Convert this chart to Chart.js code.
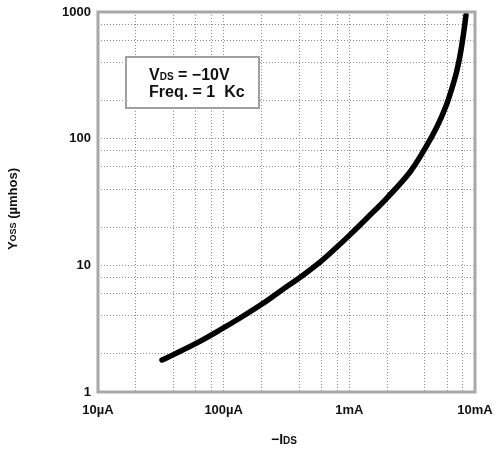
<!DOCTYPE html>
<html>
<head>
<meta charset="utf-8">
<script src="https://cdn.jsdelivr.net/npm/chart.js@4"></script>
<style>
  html, body { margin: 0; padding: 0; background: #fff; }
  #wrap { width: 498px; height: 453px; }
</style>
</head>
<body>
<div id="wrap"><canvas id="yossChart" width="498" height="453"></canvas></div>
<script>
"use strict";

// drain current (mA) and output admittance (umhos)
var drainCurrentMA = [0.0323, 0.041, 0.0613, 0.0935, 0.135, 0.202, 0.291, 0.42, 0.584, 0.769, 1.01, 1.41, 1.99, 3.04, 4.07, 4.98, 5.88, 6.56, 7.19, 7.74, 8.18, 8.48];
var yossUmhos = [1.79, 2.0, 2.44, 3.09, 3.84, 4.95, 6.39, 8.24, 10.6, 13.5, 17.4, 24.1, 34.0, 54.6, 86, 124, 181, 251, 348, 501, 721, 947];

// graph paper rulings: 1, 2, 4, 6, 8 in every decade
var xGridValues = [0.01, 0.02, 0.04, 0.06, 0.08, 0.1, 0.2, 0.4, 0.6, 0.8, 1, 2, 4, 6, 8, 10];
var yGridValues = [1, 2, 4, 6, 8, 10, 20, 40, 60, 80, 100, 200, 400, 600, 800, 1000];
var xDecadeLabels = { 0.01: '10\u00b5A', 0.1: '100\u00b5A', 1: '1mA', 10: '10mA' };
var yDecadeLabels = { 1: '1', 10: '10', 100: '100', 1000: '1000' };

var FONT = "'Liberation Sans', Arial, sans-serif";
var GRID = '#8c8c8c';

// draw a run of [text, size, dy] pieces starting at x, baseline middle
function drawPieces(ctx, pieces, x, y) {
  pieces.forEach(function (p) {
    ctx.font = 'bold ' + p[1] + 'px ' + FONT;
    ctx.fillText(p[0], x, y + (p[2] || 0));
    x += ctx.measureText(p[0]).width;
  });
}
function piecesWidth(ctx, pieces) {
  var w = 0;
  pieces.forEach(function (p) {
    ctx.font = 'bold ' + p[1] + 'px ' + FONT;
    w += ctx.measureText(p[0]).width;
  });
  return w;
}

var plotDecor = {
  id: 'plotDecor',
  afterDatasetsDraw: function (chart) {
    var ctx = chart.ctx, a = chart.chartArea;
    ctx.save();
    // frame
    ctx.strokeStyle = '#a8a8a8';
    ctx.lineWidth = 3;
    ctx.strokeRect(a.left, a.top, a.right - a.left, a.bottom - a.top);

    // condition box
    ctx.fillStyle = '#fff';
    ctx.fillRect(126, 57, 133, 51);
    ctx.strokeStyle = '#a0a0a0';
    ctx.lineWidth = 2;
    ctx.strokeRect(126, 57, 133, 51);
    ctx.fillStyle = '#111';
    ctx.textBaseline = 'middle';
    ctx.textAlign = 'left';
    drawPieces(ctx, [['V', 16], ['DS', 10, 1], [' = \u221210V', 16]], 149, 76);
    drawPieces(ctx, [['Freq. = 1  Kc', 16]], 149, 93);

    // axis titles
    drawPieces(ctx, [['\u2212I', 14], ['DS', 10, 1]], 271, 440);
    var yt = [['Y', 13], ['OSS', 9, 1], [' (\u00b5mhos)', 13]];
    ctx.translate(13, 209);
    ctx.rotate(-Math.PI / 2);
    drawPieces(ctx, yt, -piecesWidth(ctx, yt) / 2, 0);
    ctx.restore();
  }
};

var load_yoss_chart = function () {
  var el = document.getElementById('yossChart').getContext('2d');
  var points = drainCurrentMA.map(function (x, i) { return { x: x, y: yossUmhos[i] }; });

  return new Chart(el, {
    type: 'line',
    data: {
      datasets: [{
        data: points,
        borderColor: '#000',
        borderWidth: 5.5,
        borderCapStyle: 'round',
        borderJoinStyle: 'round',
        pointRadius: 0,
        tension: 0.35,
        fill: false
      }]
    },
    options: {
      responsive: false,
      animation: false,
      layout: { padding: { top: 12, right: 23, bottom: 0, left: 0 } },
      plugins: { legend: { display: false }, tooltip: { enabled: false } },
      scales: {
        x: {
          type: 'logarithmic',
          min: 0.01,
          max: 10,
          afterBuildTicks: function (scale) {
            scale.ticks = xGridValues.map(function (v) { return { value: v }; });
          },
          afterFit: function (scale) {
            scale.height = 61;
            scale.paddingLeft = 0;
            scale.paddingRight = 0;
          },
          ticks: {
            autoSkip: false,
            maxRotation: 0,
            padding: 11,
            color: '#111',
            font: { family: FONT, size: 13, weight: 'bold' },
            callback: function (v) { return xDecadeLabels[v] || ''; }
          },
          grid: { color: GRID, lineWidth: 1, drawTicks: false },
          border: { display: false, dash: [1, 2] }
        },
        y: {
          type: 'logarithmic',
          min: 1,
          max: 1000,
          afterBuildTicks: function (scale) {
            scale.ticks = yGridValues.map(function (v) { return { value: v }; });
          },
          afterFit: function (scale) {
            scale.width = 98;
            scale.paddingTop = 0;
            scale.paddingBottom = 0;
          },
          ticks: {
            autoSkip: false,
            padding: 7,
            color: '#111',
            font: { family: FONT, size: 13, weight: 'bold' },
            callback: function (v) { return yDecadeLabels[v] || ''; }
          },
          grid: { color: GRID, lineWidth: 1, drawTicks: false },
          border: { display: false, dash: [1, 2] }
        }
      }
    },
    plugins: [plotDecor]
  });
};

load_yoss_chart();
</script>
</body>
</html>
